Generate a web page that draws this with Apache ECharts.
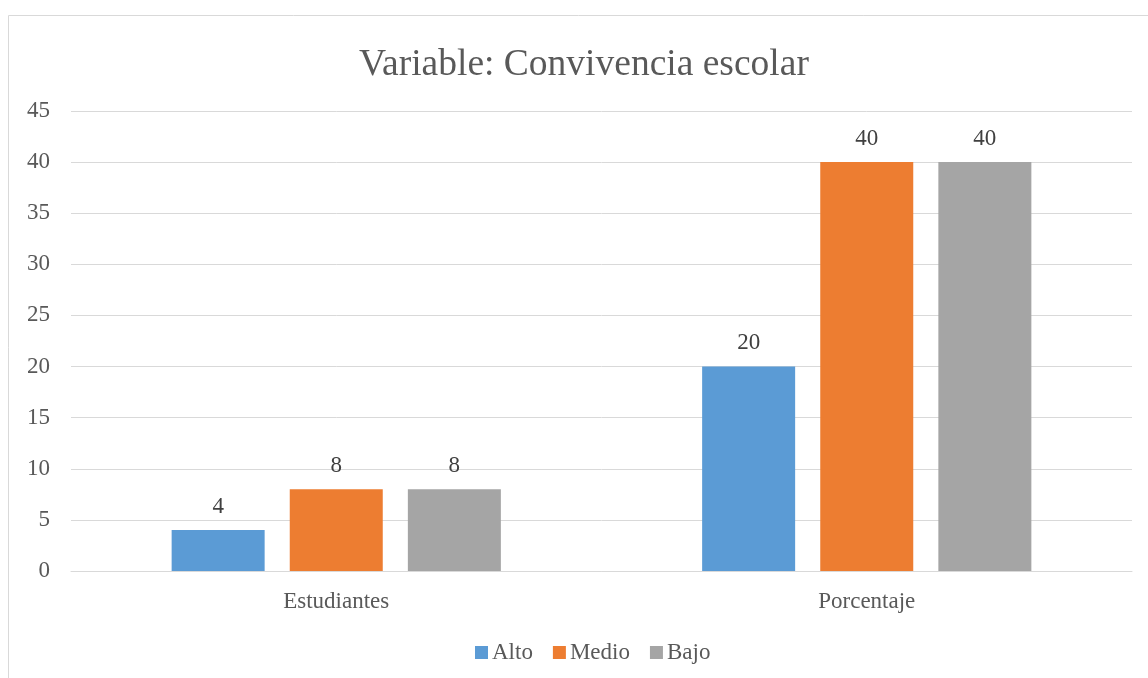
<!DOCTYPE html>
<html>
<head>
<meta charset="utf-8">
<script src="https://cdn.jsdelivr.net/npm/echarts@6/dist/echarts.min.js"></script>
<style>
  html, body { margin: 0; padding: 0; background: #fff; }
  #chart { width: 1148px; height: 678px; }
</style>
</head>
<body>
<div id="chart"></div>
<script>
var categories = ['Estudiantes', 'Porcentaje']
var seriesNames = ['Alto', 'Medio', 'Bajo']
var alto = [4, 20]
var medio = [8, 40]
var bajo = [8, 40]
var yTicks = [0, 5, 10, 15, 20, 25, 30, 35, 40, 45]

var colors = ['#5b9bd5', '#ed7d31', '#a5a5a5']
var font = '"Liberation Serif", "Times New Roman", serif'

var chart = echarts.init(document.getElementById('chart'))

function makeSeries(name, data, color) {
  return {
    name: name,
    type: 'bar',
    data: data,
    barWidth: 93,
    barGap: '27%',
    itemStyle: { color: color },
    label: {
      show: true,
      position: 'top',
      distance: 12,
      color: '#404040',
      fontFamily: font,
      fontSize: 23
    },
    animation: false
  }
}

chart.setOption({
  animation: false,
  title: {
    text: 'Variable: Convivencia escolar',
    left: 579,
    top: 41,
    textAlign: 'center',
    textStyle: { fontFamily: font, fontSize: 37.5, fontWeight: 'normal', color: '#595959' }
  },
  graphic: [{
    type: 'rect',
    shape: { x: 8.5, y: 15.5, width: 1160, height: 700 },
    style: { fill: 'none', stroke: '#d9d9d9', lineWidth: 1 },
    silent: true
  }],
  legend: {
    data: seriesNames,
    top: 636,
    left: 470,
    itemWidth: 13,
    itemHeight: 13,
    itemGap: 20,
    icon: 'rect',
    textStyle: { fontFamily: font, fontSize: 23, color: '#595959', padding: [0, 0, 0, -1] }
  },
  grid: { left: 71, right: 16, top: 111, bottom: 107 },
  xAxis: {
    type: 'category',
    data: categories,
    axisLine: { lineStyle: { color: '#d9d9d9' } },
    axisTick: { show: false },
    axisLabel: { fontFamily: font, fontSize: 23, color: '#595959', margin: 19 }
  },
  yAxis: {
    type: 'value',
    min: yTicks[0],
    max: yTicks[yTicks.length - 1],
    interval: 5,
    axisLine: { show: false },
    axisTick: { show: false },
    splitLine: { lineStyle: { color: '#d9d9d9' } },
    axisLabel: { fontFamily: font, fontSize: 23, color: '#595959', margin: 21 }
  },
  series: [
    makeSeries(seriesNames[0], alto, colors[0]),
    makeSeries(seriesNames[1], medio, colors[1]),
    makeSeries(seriesNames[2], bajo, colors[2])
  ]
})
</script>
</body>
</html>
